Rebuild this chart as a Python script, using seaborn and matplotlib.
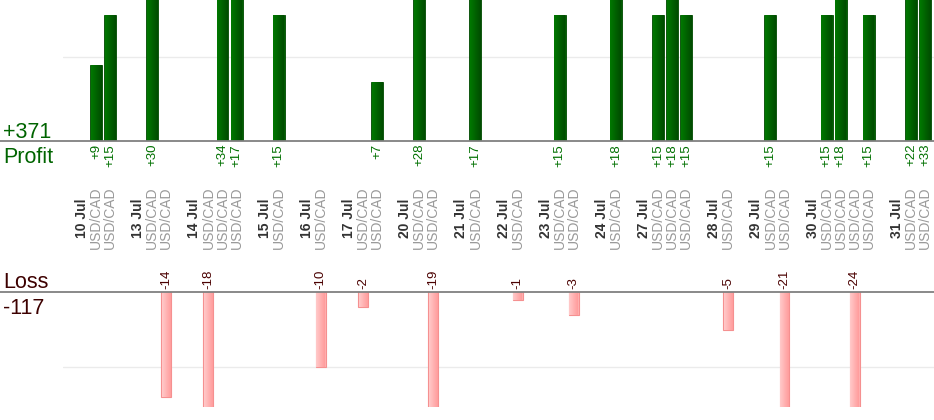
"""
Daily USD/CAD trades: profit bars on top, loss bars below.
"""

import matplotlib
matplotlib.use("Agg")
import matplotlib.pyplot as plt
from matplotlib import transforms
from matplotlib.colors import LinearSegmentedColormap
from matplotlib.lines import Line2D
import numpy as np
import pandas as pd
import seaborn as sns


days = ["10 Jul", "13 Jul", "14 Jul", "15 Jul", "16 Jul", "17 Jul", "20 Jul", "21 Jul",
        "22 Jul", "23 Jul", "24 Jul", "27 Jul", "28 Jul", "29 Jul", "30 Jul", "31 Jul"]
trades = [[9, 15], [30, -14], [-18, 34, 17], [15], [-10], [-2, 7], [28, -19], [17],
          [-1], [15, -3], [18], [15, 18, 15], [-5], [15, -21], [15, 18, -24, 15], [22, 33]]
pair = "USD/CAD"

# one slot for the date, one per trade, then an empty slot
rows = []
date_slots = []
pos = 0
for day, vals in zip(days, trades):
    date_slots.append(pos)
    pos += 1
    for v in vals:
        rows.append({"slot": pos, "value": v})
        pos += 1
    pos += 1
df = pd.DataFrame(rows)
df["key"] = df["slot"].astype(str)
order = [str(i) for i in range(pos)]
profit = df[df["value"] > 0]
loss = df[df["value"] < 0]

sns.set_style("white")
plt.rcParams["font.family"] = ["Liberation Sans", "DejaVu Sans"]

W, H = 934, 420
fig = plt.figure(figsize=(W / 100, H / 100), dpi=100)


def px_box(x0, y0, x1, y1):
    return [x0 / W, 1 - y1 / H, (x1 - x0) / W, (y1 - y0) / H]


def shade_bars(ax, c0, c1, ylim):
    """Left-to-right gradient inside each bar, kept inside the y limits."""
    cmap = LinearSegmentedColormap.from_list("bar", [c0, c1])
    grad = np.linspace(0, 1, 32)[None, :]
    for p in list(ax.patches):
        h = p.get_height()
        if not np.isfinite(h) or h == 0:
            continue
        x, y, w = p.get_x(), p.get_y(), p.get_width()
        y0, y1 = sorted((y, y + h))
        y0, y1 = max(y0, ylim[0]), min(y1, ylim[1])
        ax.imshow(grad, cmap=cmap, extent=(x + 0.04, x + w - 0.04, y0, y1), aspect="auto",
                  interpolation="bilinear", zorder=p.get_zorder() + 0.1)


ax_p = fig.add_axes(px_box(63, 0, 934, 141))
ax_l = fig.add_axes(px_box(63, 292.3, 934, 407))
ylim_p = (0, 16.8)
ylim_l = (-15.4, 0)

sns.barplot(data=profit, x="key", y="value", order=order, color="#005c00",
            saturation=1, width=0.85, edgecolor="#004a00", linewidth=0.6,
            errorbar=None, ax=ax_p)
sns.barplot(data=loss, x="key", y="value", order=order, color="#ffb0b0",
            saturation=1, width=0.71, edgecolor="#f59090", linewidth=0.8,
            errorbar=None, ax=ax_l)
shade_bars(ax_p, "#007800", "#004c00", ylim_p)
shade_bars(ax_l, "#ffcaca", "#ff9c9c", ylim_l)

pitch = 14.05
x_left = -(82 - 63) / pitch
x_right = x_left + 871 / pitch
for ax, ylim, grid in [(ax_p, ylim_p, [10]), (ax_l, ylim_l, [-10])]:
    ax.set_xlim(x_left, x_right)
    ax.set_ylim(*ylim)
    ax.set_yticks(grid)
    ax.set_xticks([])
    ax.yaxis.grid(True, color="#ebebeb", lw=1)
    ax.set_axisbelow(True)
    ax.tick_params(left=False, labelleft=False, bottom=False)
    ax.set_xlabel("")
    ax.set_ylabel("")
    ax.patch.set_alpha(0)
    sns.despine(ax=ax, left=True, bottom=True)

# zero lines across the whole width
for ax in (ax_p, ax_l):
    tr = transforms.blended_transform_factory(fig.transFigure, ax.transData)
    fig.add_artist(Line2D([0, 1], [0, 0], transform=tr, color="#808080", lw=1.3))

for _, r in profit.iterrows():
    ax_p.annotate(f"+{r['value']}", (r["slot"], 0), xytext=(0, -3),
                  textcoords="offset pixels", rotation=90, ha="center", va="top",
                  color="#007000", fontsize=9.5, annotation_clip=False)
for _, r in loss.iterrows():
    ax_l.annotate(f"{r['value']}", (r["slot"], 0), xytext=(0, 3),
                  textcoords="offset pixels", rotation=90, ha="center", va="bottom",
                  color="#4a0000", fontsize=9.5, annotation_clip=False)

# date and pair labels between the two panels
tr_x = transforms.blended_transform_factory(ax_p.transData, fig.transFigure)
y_lab = 1 - 218 / H
for s, d in zip(date_slots, days):
    ax_p.text(s, y_lab, d, transform=tr_x, rotation=90, ha="center", va="center",
              fontsize=10, fontweight="bold", color="#333333", clip_on=False)
for s in df["slot"]:
    ax_p.text(s, y_lab, pair, transform=tr_x, rotation=90, ha="center", va="center",
              fontsize=10, color="#999999", clip_on=False)

total_p = profit["value"].sum()
total_l = loss["value"].sum()
fig.text(3 / W, 1 - 138 / H, f"+{total_p}", fontsize=15.5, color="#006400", va="baseline")
fig.text(3 / W, 1 - 163 / H, "Profit", fontsize=15.5, color="#006400", va="baseline")
fig.text(3 / W, 1 - 288 / H, "Loss", fontsize=15.5, color="#3d0000", va="baseline")
fig.text(3 / W, 1 - 314 / H, f"{total_l}", fontsize=15.5, color="#3d0000", va="baseline")

fig.savefig("out.png", dpi=100)
